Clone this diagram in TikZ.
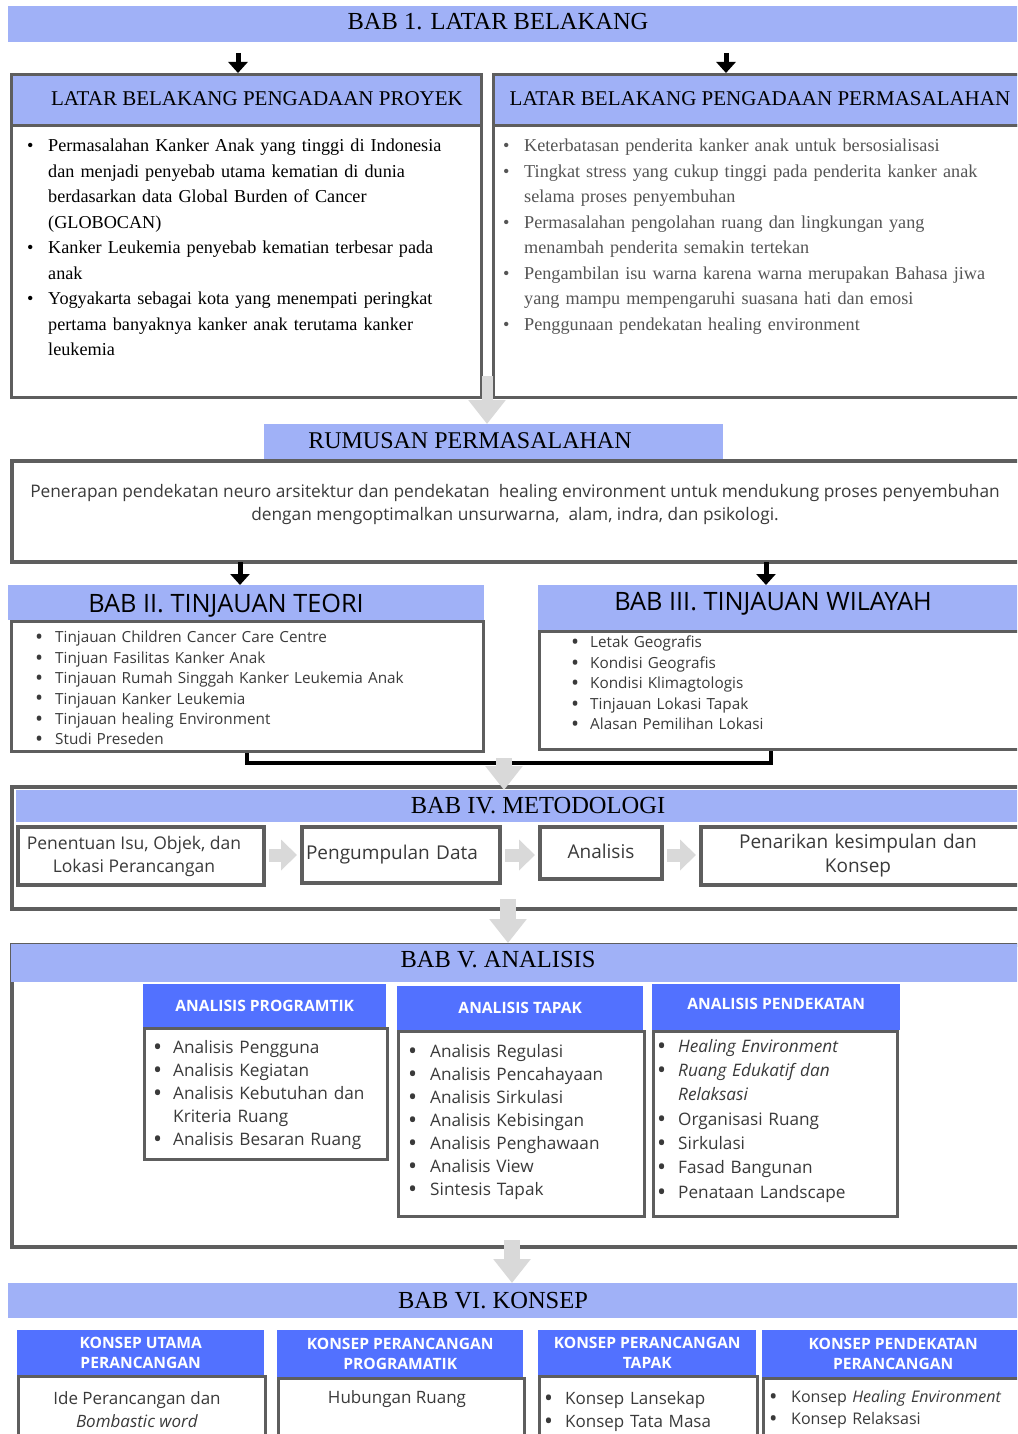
\documentclass[tikz,border=0pt]{standalone}
\usepackage{fontspec}
\setmainfont{Liberation Serif}
\newfontfamily\osans{Open Sans}
\usetikzlibrary{arrows.meta, positioning}
\definecolor{bandblue}{HTML}{A0B1F7}
\definecolor{hdrblue}{HTML}{5271FF}
\definecolor{framegray}{HTML}{5E5E5E}
\definecolor{arrowgray}{HTML}{D9D9D9}
\definecolor{txtgray}{HTML}{555555}
\definecolor{txtdark}{HTML}{3A3A3A}
\newlength{\itmind}
\newcommand{\itmbul}{\textbullet}
\newcommand{\sansbul}{\def\itmbul{\raisebox{-0.12em}{\scalebox{1.4}{\textbullet}}}}
\newcommand{\itm}[1]{\noindent\hangindent=\itmind\hangafter=1\makebox[\itmind][l]{\itmbul}{#1}\par}

\begin{document}
\begin{tikzpicture}[x=1pt, y=-1pt, line join=miter,
	bandbox/.style={fill=bandblue, inner sep=0pt, anchor=north west},
	boxframe/.style={draw=framegray, line width=3pt, inner sep=0pt, anchor=north west},
	hdrbox/.style={fill=hdrblue, text=white, inner sep=0pt, anchor=north west, align=center,
		font=\osans\bfseries\fontsize{15.6}{20}\selectfont},
	listtxt/.style={inner sep=0pt, anchor=north west, align=left},
	serifttl/.style={font=\fontsize{24.5}{28}\selectfont},
	sansttl/.style={font=\osans\fontsize{25.3}{28}\selectfont},
	stepbox/.style={boxframe, line width=4pt, align=center, text=txtdark, font=\osans\fontsize{19}{24}\selectfont},
	blkarrow/.style={line width=5pt, -{Triangle[width=19pt,length=11pt]}},
	gryarrow/.style={draw=arrowgray, line width=16pt, -{Triangle[width=36pt,length=24pt]}},
	stparrow/.style={draw=arrowgray, line width=13pt, -{Triangle[width=30pt,length=16pt]}, shorten <=3pt, shorten >=3pt}]
\useasboundingbox (0,0) rectangle (1017,1434);
\clip (0,0) rectangle (1017,1434);
\fill[white] (0,0) rectangle (1017,1434);
%========================
% BAB 1
%========================
\node[bandbox, minimum width=1012pt, minimum height=36pt] (bab1) at (8,6) {};
\node[serifttl] (bab1t) at (498,22) {BAB 1. LATAR BELAKANG};

% left: proyek
\node[boxframe, minimum width=470pt, minimum height=272pt] (bodyL) at (10,124) {};
\node[boxframe, fill=bandblue, minimum width=470pt, minimum height=51pt] (hdrL) at (10,73) {};
\node[font=\fontsize{21}{24}\selectfont] (hdrLt) at (257,99) {LATAR BELAKANG PENGADAAN PROYEK};
\node[listtxt, text width=450pt, font=\fontsize{18.2}{25.5}\selectfont] (listL) at (27,139) {\setlength{\itmind}{21pt}%
	\itm{Permasalahan Kanker Anak yang tinggi di Indonesia\newline dan menjadi penyebab utama kematian di dunia\newline berdasarkan data Global Burden of Cancer\newline (GLOBOCAN)}%
	\itm{Kanker Leukemia penyebab kematian terbesar pada\newline anak}%
	\itm{Yogyakarta sebagai kota yang menempati peringkat\newline pertama banyaknya kanker anak terutama kanker\newline leukemia}};

% right: permasalahan
\node[boxframe, minimum width=530pt, minimum height=272pt] (bodyR) at (492,124) {};
\node[boxframe, fill=bandblue, minimum width=530pt, minimum height=51pt] (hdrR) at (492,73) {};
\node[font=\fontsize{21}{24}\selectfont] (hdrRt) at (760,99) {LATAR BELAKANG PENGADAAN PERMASALAHAN};
\node[listtxt, text width=505pt, text=txtgray, font=\fontsize{18.2}{25.5}\selectfont] (listR) at (503,139) {\setlength{\itmind}{21pt}%
	\itm{Keterbatasan penderita kanker anak untuk bersosialisasi}%
	\itm{Tingkat stress yang cukup tinggi pada penderita kanker anak\newline selama proses penyembuhan}%
	\itm{Permasalahan pengolahan ruang dan lingkungan yang\newline menambah penderita semakin tertekan}%
	\itm{Pengambilan isu warna karena warna merupakan Bahasa jiwa\newline yang mampu mempengaruhi suasana hati dan emosi}%
	\itm{Penggunaan pendekatan healing environment}};

\coordinate (b1L) at (238,53);
\coordinate (b1R) at (726,53);
\draw[blkarrow] (b1L) -- (b1L |- hdrL.north);
\draw[blkarrow] (b1R) -- (b1R |- hdrR.north);

%========================
% Rumusan
%========================
\node[bandbox, minimum width=459pt, minimum height=35pt] (rumus) at (264,424) {};
\node[font=\fontsize{24}{28}\selectfont] (rumust) at (470,441) {RUMUSAN PERMASALAHAN};
\coordinate (g1) at (487,376);
\draw[gryarrow, line width=11pt] (g1) -- (g1 |- rumus.north);
\node[boxframe, line width=4pt, minimum width=1012pt, minimum height=101pt] (rumusbox) at (10,459) {};
\node[align=center, text=txtdark, font=\osans\fontsize{17.3}{23}\selectfont] (rumustxt) at (515,505)
	{Penerapan pendekatan neuro arsitektur dan pendekatan~ healing environment untuk mendukung proses penyembuhan\\dengan mengoptimalkan unsurwarna,~ alam, indra, dan psikologi.};

%========================
% BAB II & BAB III
%========================
\node[bandbox, minimum width=476pt, minimum height=35pt] (bab2) at (8,585) {};
\node[sansttl] (bab2t) at (226,606) {BAB II. TINJAUAN TEORI};
\node[boxframe, minimum width=472pt, minimum height=130pt] (body2) at (10,620) {};
\node[listtxt, text width=440pt, text=txtdark, font=\osans\fontsize{15.3}{20.4}\selectfont] (list2) at (35,631) {\setlength{\itmind}{20pt}\sansbul%
	\itm{Tinjauan Children Cancer Care Centre}%
	\itm{Tinjuan Fasilitas Kanker Anak}%
	\itm{Tinjauan Rumah Singgah Kanker Leukemia Anak}%
	\itm{Tinjauan Kanker Leukemia}%
	\itm{Tinjauan healing Environment}%
	\itm{Studi Preseden}};

\node[bandbox, minimum width=482pt, minimum height=45pt] (bab3) at (538,585) {};
\node[sansttl] (bab3t) at (773,604) {BAB III. TINJAUAN WILAYAH};
\node[boxframe, minimum width=482pt, minimum height=118pt] (body3) at (538,630) {};
\node[listtxt, text width=430pt, text=txtdark, font=\osans\fontsize{15.3}{20.5}\selectfont] (list3) at (571,636) {\setlength{\itmind}{19pt}\sansbul%
	\itm{Letak Geografis}%
	\itm{Kondisi Geografis}%
	\itm{Kondisi Klimagtologis}%
	\itm{Tinjauan Lokasi Tapak}%
	\itm{Alasan Pemilihan Lokasi}};

\coordinate (r2) at (240,562);
\coordinate (r3) at (766,562);
\draw[blkarrow] (r2) -- (r2 |- bab2.north);
\draw[blkarrow] (r3) -- (r3 |- bab3.north);

% join of both chapters
\draw[line width=4pt] ([xshift=-1pt]body2.south) -- ++(0,10) -| ([xshift=-10pt]body3.south);

%========================
% BAB IV
%========================
\node[boxframe, line width=4pt, minimum width=1012pt, minimum height=122pt] (bab4) at (10,785) {};
\node[bandbox, minimum width=1004pt, minimum height=32pt] (bab4band) at (16,790) {};
\node[serifttl] (bab4t) at (538,806) {BAB IV. METODOLOGI};
\coordinate (g2) at (504,758);
\draw[gryarrow] (g2) -- (g2 |- bab4band.north);

\node[stepbox, minimum width=246pt, minimum height=58pt, font=\osans\fontsize{17.5}{23}\selectfont] (s1) at (16,825) {\hspace*{-14pt}Penentuan Isu, Objek, dan\\\hspace*{-14pt}Lokasi Perancangan};
\node[stepbox, minimum width=198pt, minimum height=56pt, text width=190pt, align=left] (s2) at (300,825) {Pengumpulan Data};
\node[stepbox, minimum width=122pt, minimum height=52pt] (s3) at (538,825) {\raisebox{4pt}{Analisis}};
\node[stepbox, minimum width=330pt, minimum height=58pt, text width=300pt] (s4) at (699,825) {\hspace*{-16pt}Penarikan kesimpulan dan\\\hspace*{-16pt}Konsep};
\draw[stparrow] (s1.east |- s2) -- (s2.west);
\draw[stparrow] (s2.east) -- (s3.west |- s2.east);
\draw[stparrow] (s3.east |- s2.east) -- (s4.west |- s2.east);

%========================
% BAB V
%========================
\node[boxframe, line width=4pt, minimum width=1012pt, minimum height=302pt] (bab5) at (10,943) {};
\node[bandbox, minimum width=1010pt, minimum height=38pt] (bab5band) at (11,944) {};
\node[serifttl] (bab5t) at (498,960) {BAB V. ANALISIS};
\coordinate (g3) at (508,899);
\draw[gryarrow] (g3) -- (g3 |- bab5.north);

% programatik
\node[boxframe, minimum width=243pt, minimum height=131pt] (bodyA) at (143,1027) {};
\node[hdrbox, minimum width=243pt, minimum height=43pt] (hdrA) at (143,984) {ANALISIS PROGRAMTIK};
\node[listtxt, text width=225pt, text=txtdark, font=\osans\fontsize{17.2}{23}\selectfont] (listA) at (153,1040) {\setlength{\itmind}{20pt}\sansbul%
	\itm{Analisis Pengguna}%
	\itm{Analisis Kegiatan}%
	\itm{Analisis Kebutuhan dan\newline Kriteria Ruang}%
	\itm{Analisis Besaran Ruang}};

% tapak
\node[boxframe, minimum width=246pt, minimum height=185pt] (bodyB) at (397,1030) {};
\node[hdrbox, minimum width=246pt, minimum height=44pt] (hdrB) at (397,986) {ANALISIS TAPAK};
\node[listtxt, text width=225pt, text=txtdark, font=\osans\fontsize{17.2}{23}\selectfont] (listB) at (408,1044) {\setlength{\itmind}{22pt}\sansbul%
	\itm{Analisis Regulasi}%
	\itm{Analisis Pencahayaan}%
	\itm{Analisis Sirkulasi}%
	\itm{Analisis Kebisingan}%
	\itm{Analisis Penghawaan}%
	\itm{Analisis View}%
	\itm{Sintesis Tapak}};

% pendekatan
\node[boxframe, minimum width=244pt, minimum height=185pt] (bodyC) at (652,1030) {};
\node[hdrbox, minimum width=248pt, minimum height=46pt] (hdrC) at (652,984) {\raisebox{6pt}{ANALISIS PENDEKATAN}};
\node[listtxt, text width=230pt, text=txtdark, font=\osans\fontsize{17.2}{24.3}\selectfont] (listC) at (657,1039) {\setlength{\itmind}{21pt}\sansbul%
	\itm{\itshape Healing Environment}%
	\itm{\itshape Ruang Edukatif dan\newline Relaksasi}%
	\itm{Organisasi Ruang}%
	\itm{Sirkulasi}%
	\itm{Fasad Bangunan}%
	\itm{Penataan Landscape}};

%========================
% BAB VI
%========================
\node[bandbox, minimum width=1012pt, minimum height=35pt] (bab6) at (8,1283) {};
\node[serifttl] (bab6t) at (493,1301) {BAB VI. KONSEP};
\coordinate (g4) at (512,1240);
\draw[gryarrow] (g4) -- (g4 |- bab6.north);

\node[boxframe, minimum width=247pt, minimum height=90pt] (bodyK1) at (17,1375) {};
\node[hdrbox, minimum width=247pt, minimum height=45pt] (hdrK1) at (17,1330) {KONSEP UTAMA\\PERANCANGAN};
\node[align=center, text=txtdark, font=\osans\fontsize{17}{23}\selectfont] (txtK1) at (137,1410) {Ide Perancangan dan\\\textit{Bombastic word}};

\node[boxframe, minimum width=246pt, minimum height=90pt] (bodyK2) at (277,1377) {};
\node[hdrbox, minimum width=246pt, minimum height=47pt] (hdrK2) at (277,1330) {KONSEP PERANCANGAN\\PROGRAMATIK};
\node[text=txtdark, font=\osans\fontsize{17}{23}\selectfont] (txtK2) at (397,1399) {Hubungan Ruang};

\node[boxframe, minimum width=218pt, minimum height=90pt] (bodyK3) at (538,1375) {};
\node[hdrbox, minimum width=218pt, minimum height=45pt] (hdrK3) at (538,1330) {KONSEP PERANCANGAN\\TAPAK};
\node[listtxt, text width=205pt, text=txtdark, font=\osans\fontsize{17}{23}\selectfont] (listK3) at (544,1391) {\setlength{\itmind}{21pt}\sansbul%
	\itm{Konsep Lansekap}%
	\itm{Konsep Tata Masa}};

\node[boxframe, minimum width=262pt, minimum height=90pt] (bodyK4) at (762,1377) {};
\node[hdrbox, minimum width=262pt, minimum height=47pt] (hdrK4) at (762,1330) {KONSEP PENDEKATAN\\PERANCANGAN};
\node[listtxt, text width=250pt, text=txtdark, font=\osans\fontsize{16}{22}\selectfont] (listK4) at (769,1390) {\setlength{\itmind}{22pt}\sansbul%
	\itm{Konsep \textit{Healing Environment}}%
	\itm{Konsep Relaksasi}};
\end{tikzpicture}
\end{document}
